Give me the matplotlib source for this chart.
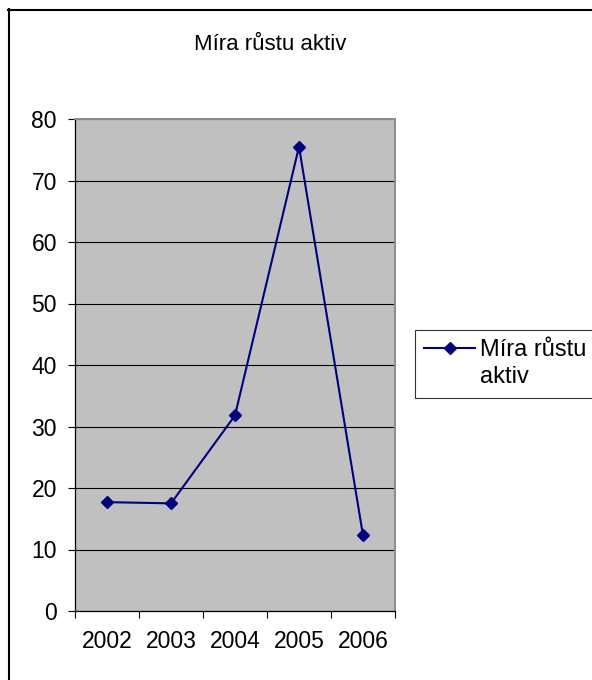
import matplotlib
matplotlib.use("Agg")
import matplotlib.pyplot as plt
from matplotlib.lines import Line2D

plt.rcParams['font.family'] = ['Liberation Sans', 'DejaVu Sans']

years = ["2002", "2003", "2004", "2005", "2006"]
growth = [17.7, 17.5, 31.8, 75.5, 12.3]
y_ticks = [0, 10, 20, 30, 40, 50, 60, 70, 80]
title = "Míra růstu aktiv"
legend_lines = ["Míra růstu", "aktiv"]

W, H = 592, 680
dpi = 100
fig = plt.figure(figsize=(W / dpi, H / dpi), dpi=dpi)

def fx(px):
    return px / W

def fy(py):
    return 1 - py / H

# plot area
ax = fig.add_axes([fx(75), fy(611), fx(395) - fx(75), fy(119) - fy(611)])
ax.set_facecolor('#C0C0C0')

x = list(range(len(years)))
series, = ax.plot(x, growth, color='#000080', lw=1.5, marker='D', ms=6.2,
                  markerfacecolor='#000080', markeredgecolor='#000080',
                  zorder=3, clip_on=False)

ax.set_xlim(-0.5, len(years) - 0.5)
ax.set_ylim(0, 80)

# y axis
ax.set_yticks(y_ticks)
ax.set_yticklabels([str(v) for v in y_ticks])
ax.yaxis.grid(True, color='black', lw=0.8)
ax.set_axisbelow(True)
ax.tick_params(axis='y', direction='out', length=5, width=0.8, color='black',
               labelsize=16.5, pad=8)

# x axis: tick marks between categories, labels at category centres
ax.set_xticks([i - 0.5 for i in range(len(years) + 1)])
ax.set_xticklabels([])
ax.set_xticks(x, minor=True)
ax.set_xticklabels(years, minor=True)
ax.tick_params(axis='x', which='major', direction='out', length=5, width=0.8,
               color='black')
ax.tick_params(axis='x', which='minor', length=0, labelsize=16.5, pad=14)

for side in ('left', 'bottom'):
    ax.spines[side].set_color('black')
    ax.spines[side].set_linewidth(0.9)
for side in ('top', 'right'):
    ax.spines[side].set_color('#8C8C8C')
    ax.spines[side].set_linewidth(1.4)

fig.text(fx(270), fy(45), title, ha='center', va='center', fontsize=16)

# legend: series key on the first text line, wrapped label continues below
blank = Line2D([], [], color='none')
leg = fig.legend([series, blank], legend_lines, loc='upper left',
                 bbox_to_anchor=(fx(415), fy(330)),
                 bbox_transform=fig.transFigure, borderaxespad=0,
                 fontsize=17, frameon=True, fancybox=False, shadow=False,
                 handlelength=2.15, handletextpad=0.2, borderpad=0.4,
                 labelspacing=0.2)
frame = leg.get_frame()
frame.set_edgecolor('black')
frame.set_linewidth(0.8)
frame.set_facecolor('white')

# outer chart border (left and top edges visible)
fig.add_artist(Line2D([fx(8.5), fx(8.5)], [fy(9), 0], transform=fig.transFigure,
                      color='black', lw=1.5))
fig.add_artist(Line2D([fx(8), 1], [fy(9.5), fy(9.5)], transform=fig.transFigure,
                      color='black', lw=1.5))

fig.savefig('out.png', dpi=dpi)
